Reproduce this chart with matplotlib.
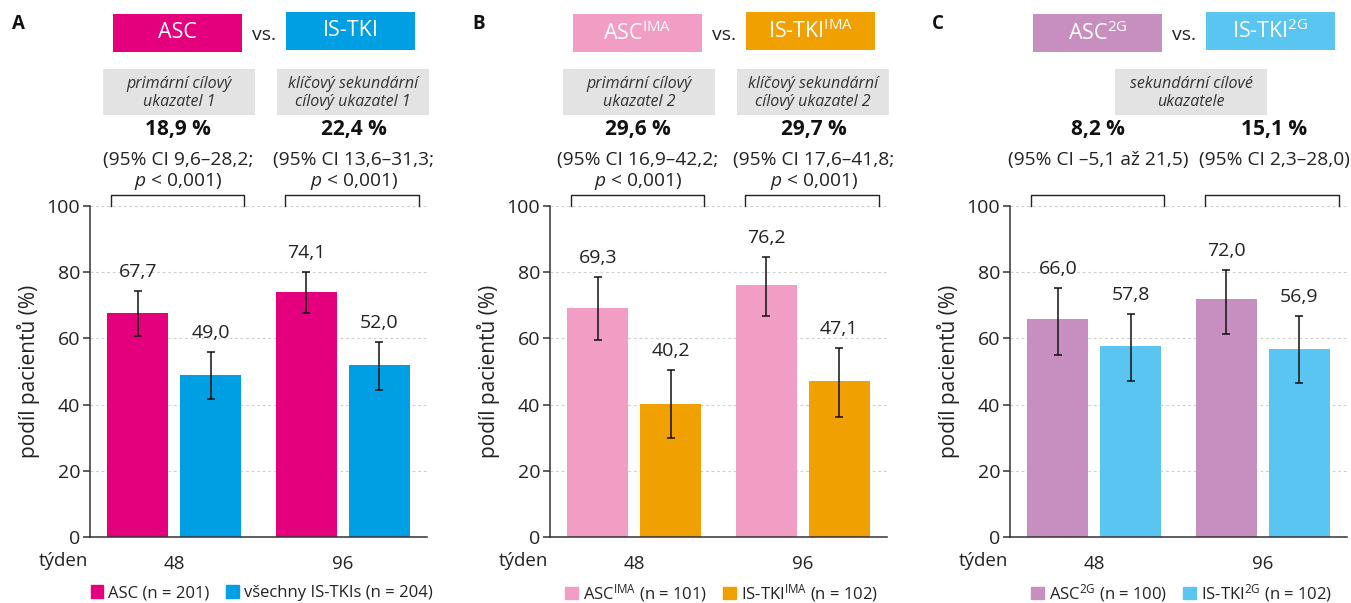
import matplotlib
matplotlib.use("Agg")
import matplotlib.pyplot as plt
import matplotlib.transforms as mtransforms
from matplotlib.patches import Rectangle, Patch
from matplotlib.lines import Line2D
import numpy as np

plt.rcParams['font.family'] = ['Open Sans', 'DejaVu Sans']
plt.rcParams['mathtext.fontset'] = 'custom'
plt.rcParams['mathtext.rm'] = 'Open Sans'
plt.rcParams['mathtext.it'] = 'Open Sans:italic'
plt.rcParams['text.color'] = '#222222'

W, H = 1351, 603
DARK = '#222222'

# data
weeks = ['48', '96']
panel_ids = ['A', 'B', 'C']
arm_names = [('ASC', 'IS-TKI'),
             (r'ASC$^{\mathrm{IMA}}$', r'IS-TKI$^{\mathrm{IMA}}$'),
             (r'ASC$^{\mathrm{2G}}$', r'IS-TKI$^{\mathrm{2G}}$')]
legend_labels = [('ASC (n = 201)', 'všechny IS-TKIs (n = 204)'),
                 (r'ASC$^{\mathrm{IMA}}$ (n = 101)', r'IS-TKI$^{\mathrm{IMA}}$ (n = 102)'),
                 (r'ASC$^{\mathrm{2G}}$ (n = 100)', r'IS-TKI$^{\mathrm{2G}}$ (n = 102)')]
arm_colors = [('#E4007C', '#009FE3'), ('#F29EC4', '#F0A000'), ('#C78FC0', '#5BC5F2')]

asc_vals = [[67.7, 74.1], [69.3, 76.2], [66.0, 72.0]]
asc_lo = [[60.8, 67.7], [59.5, 66.8], [55.0, 61.3]]
asc_hi = [[74.3, 80.0], [78.5, 84.6], [75.2, 80.7]]
tki_vals = [[49.0, 52.0], [40.2, 47.1], [57.8, 56.9]]
tki_lo = [[41.7, 44.4], [29.9, 36.3], [47.1, 46.5]]
tki_hi = [[55.9, 58.9], [50.5, 57.1], [67.4, 66.8]]

endpoints = [['primární cílový\nukazatel 1', 'klíčový sekundární\ncílový ukazatel 1'],
             ['primární cílový\nukazatel 2', 'klíčový sekundární\ncílový ukazatel 2'],
             ['sekundární cílové\nukazatele']]
diff_vals = [['18,9 %', '22,4 %'], ['29,6 %', '29,7 %'], ['8,2 %', '15,1 %']]
diff_ci = [['(95% CI 9,6–28,2;\n$p$ < 0,001)', '(95% CI 13,6–31,3;\n$p$ < 0,001)'],
           ['(95% CI 16,9–42,2;\n$p$ < 0,001)', '(95% CI 17,6–41,8;\n$p$ < 0,001)'],
           ['(95% CI –5,1 až 21,5)', '(95% CI 2,3–28,0)']]

fig = plt.figure(figsize=(W / 100, H / 100), dpi=100)

ax_left = [90, 550, 1010]
ax_w = 337
ax_top, ax_bot = 206, 537
x = np.arange(len(weeks))
bw = 0.361
off = 0.216


def fy(py):
    return 1 - py / H


def fmt(v):
    return f'{v:.1f}'.replace('.', ',')


for i in range(3):
    ax = fig.add_axes([ax_left[i] / W, fy(ax_bot), ax_w / W, (ax_bot - ax_top) / H])
    c1, c2 = arm_colors[i]
    a = np.array(asc_vals[i])
    t = np.array(tki_vals[i])
    ax.bar(x - off, a, bw, color=c1, zorder=2)
    ax.bar(x + off, t, bw, color=c2, zorder=2)
    ax.errorbar(x - off, a, yerr=[a - np.array(asc_lo[i]), np.array(asc_hi[i]) - a],
                fmt='none', ecolor='#111111', elinewidth=1.1, capsize=3, capthick=1.1, zorder=3)
    ax.errorbar(x + off, t, yerr=[t - np.array(tki_lo[i]), np.array(tki_hi[i]) - t],
                fmt='none', ecolor='#111111', elinewidth=1.1, capsize=3, capthick=1.1, zorder=3)
    for xs, vals, his in [(x - off, a, asc_hi[i]), (x + off, t, tki_hi[i])]:
        for xx, v, h in zip(xs, vals, his):
            ax.text(xx, h + 4.2, fmt(v), ha='center', va='baseline', fontsize=14, color=DARK)

    ax.set_xlim(-0.5, 1.5)
    ax.set_ylim(0, 100)
    ax.set_yticks([0, 20, 40, 60, 80, 100])
    ax.set_xticks(x)
    ax.set_xticklabels(weeks)
    ax.tick_params(axis='x', length=0, pad=13, labelsize=13.5, labelcolor=DARK)
    ax.tick_params(axis='y', length=5, width=1.1, color='#333333', pad=2, labelsize=14, labelcolor=DARK)
    ax.yaxis.grid(True, linestyle=(0, (2.5, 2.5)), color='#cfcfcf', lw=0.8)
    ax.set_axisbelow(True)
    for s in ['top', 'right']:
        ax.spines[s].set_visible(False)
    for s in ['left', 'bottom']:
        ax.spines[s].set_color('#333333')
        ax.spines[s].set_linewidth(1.1)
    ax.set_ylabel('podíl pacientů (%)', fontsize=15, color=DARK, labelpad=5)
    ax.text(-0.006, -24 / (ax_bot - ax_top), 'týden', transform=ax.transAxes,
            ha='right', va='center', fontsize=13.5, color=DARK)

    leg = ax.legend(handles=[Patch(color=c1, label=legend_labels[i][0]),
                             Patch(color=c2, label=legend_labels[i][1])],
                    loc='center', bbox_to_anchor=(171.5 / ax_w, -(593 - ax_bot) / (ax_bot - ax_top)),
                    ncol=2, frameon=False, fontsize=12, handlelength=0.75, handleheight=0.8,
                    handletextpad=0.3, columnspacing=1.0, borderpad=0, borderaxespad=0)
    for txt in leg.get_texts():
        txt.set_color(DARK)

    # header above the axes: x in axes fraction, y in figure fraction
    tr = mtransforms.blended_transform_factory(ax.transAxes, fig.transFigure)

    def frac(px):
        return px / ax_w

    fig.text(ax_left[i] / W - 78 / W, fy(24), panel_ids[i], fontsize=13.5, fontweight='bold',
             ha='left', va='center', color='#111111')

    for (x0, x1, y0, y1), name, col in zip([(23, 152, 14, 52), (196, 325, 12, 50)], arm_names[i], [c1, c2]):
        fig.patches.append(Rectangle((frac(x0), fy(y1)), frac(x1 - x0), (y1 - y0) / H,
                                     transform=tr, facecolor=col, edgecolor='none'))
        fig.text(frac((x0 + x1) / 2), fy((y0 + y1) / 2), name, transform=tr, ha='center', va='center',
                 fontsize=15.5, color='white')
    fig.text(frac(174), fy(35), 'vs.', transform=tr, ha='center', va='center', fontsize=14, color=DARK)

    box_spans = [(13, 165), (187, 339)] if len(endpoints[i]) == 2 else [(105, 257)]
    for (x0, x1), lab in zip(box_spans, endpoints[i]):
        fig.patches.append(Rectangle((frac(x0), fy(115)), frac(x1 - x0), 46 / H,
                                     transform=tr, facecolor='#E3E3E3', edgecolor='none'))
        fig.text(frac((x0 + x1) / 2), fy(93), lab, transform=tr, ha='center', va='center',
                 fontsize=11.5, style='italic', color='#333333', linespacing=1.1)

    centers = [88, 264]
    for cx, dv, ci in zip(centers, diff_vals[i], diff_ci[i]):
        fig.text(frac(cx), fy(130), dv, transform=tr, ha='center', va='center',
                 fontsize=15, fontweight='bold', color='#111111')
        fig.text(frac(cx), fy(151), ci, transform=tr, ha='center', va='top',
                 fontsize=13.8, color=DARK, linespacing=1.15)

    # brackets above each week
    for x0, x1 in [(21, 154), (195, 329)]:
        fig.lines.append(Line2D([frac(x0), frac(x0), frac(x1), frac(x1)], [fy(206), fy(195), fy(195), fy(206)],
                                transform=tr, color='#222222', lw=1.0))

fig.savefig('out.png', dpi=100)
